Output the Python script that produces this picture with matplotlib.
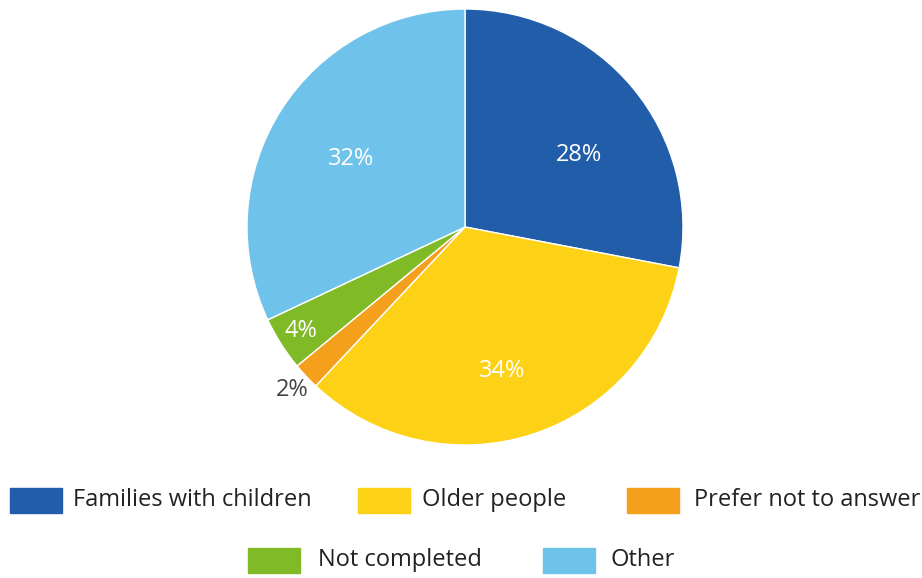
import numpy as np
import matplotlib.pyplot as plt
from matplotlib.patches import Rectangle

categories = ["Families with children", "Older people", "Prefer not to answer", "Not completed", "Other"]
values = [28, 34, 2, 4, 32]
colors = ["#215DA8", "#FDD116", "#F4A01C", "#80BA27", "#6FC3EA"]
# label placement: distance from centre (fraction of radius) and angle tweak (deg)
label_r = [0.62, 0.68, 1.09, 0.89, 0.61]
label_dang = [-7.5, -3.5, 0, 0, 1.5]
label_col = ["white", "white", "#444444", "white", "white"]

plt.rcParams['font.family'] = ['Open Sans', 'DejaVu Sans']

fig = plt.figure(figsize=(9.22, 5.78), dpi=100)
ax = fig.add_axes([247/922, 1 - 445/578, 436/922, 436/578])
wedges, _ = ax.pie(values, colors=colors, startangle=90, counterclock=False,
                   wedgeprops=dict(edgecolor="white", linewidth=1))
ax.set_aspect("equal")
ax.set_xlim(-1, 1)
ax.set_ylim(-1, 1)

for w, v, r, da, c in zip(wedges, values, label_r, label_dang, label_col):
    ang = np.deg2rad((w.theta1 + w.theta2) / 2 + da)
    ax.text(r * np.cos(ang), r * np.sin(ang), f"{v}%", ha="center", va="center",
            color=c, fontsize=17)

# legend drawn by hand in figure pixel coordinates
lax = fig.add_axes([0, 0, 1, 1])
lax.set_xlim(0, 922)
lax.set_ylim(578, 0)
lax.axis("off")
leg_pos = [(10, 488), (358, 488), (627, 488), (248, 548), (543, 548)]
leg_gap = [63, 64, 67, 70, 67]
for (x, y), g, name, col in zip(leg_pos, leg_gap, categories, colors):
    lax.add_patch(Rectangle((x, y), 52, 25, color=col))
    lax.text(x + g, y + 12.5, name, ha="left", va="center", fontsize=17, color="#222222")

fig.savefig("out.png", dpi=100)
